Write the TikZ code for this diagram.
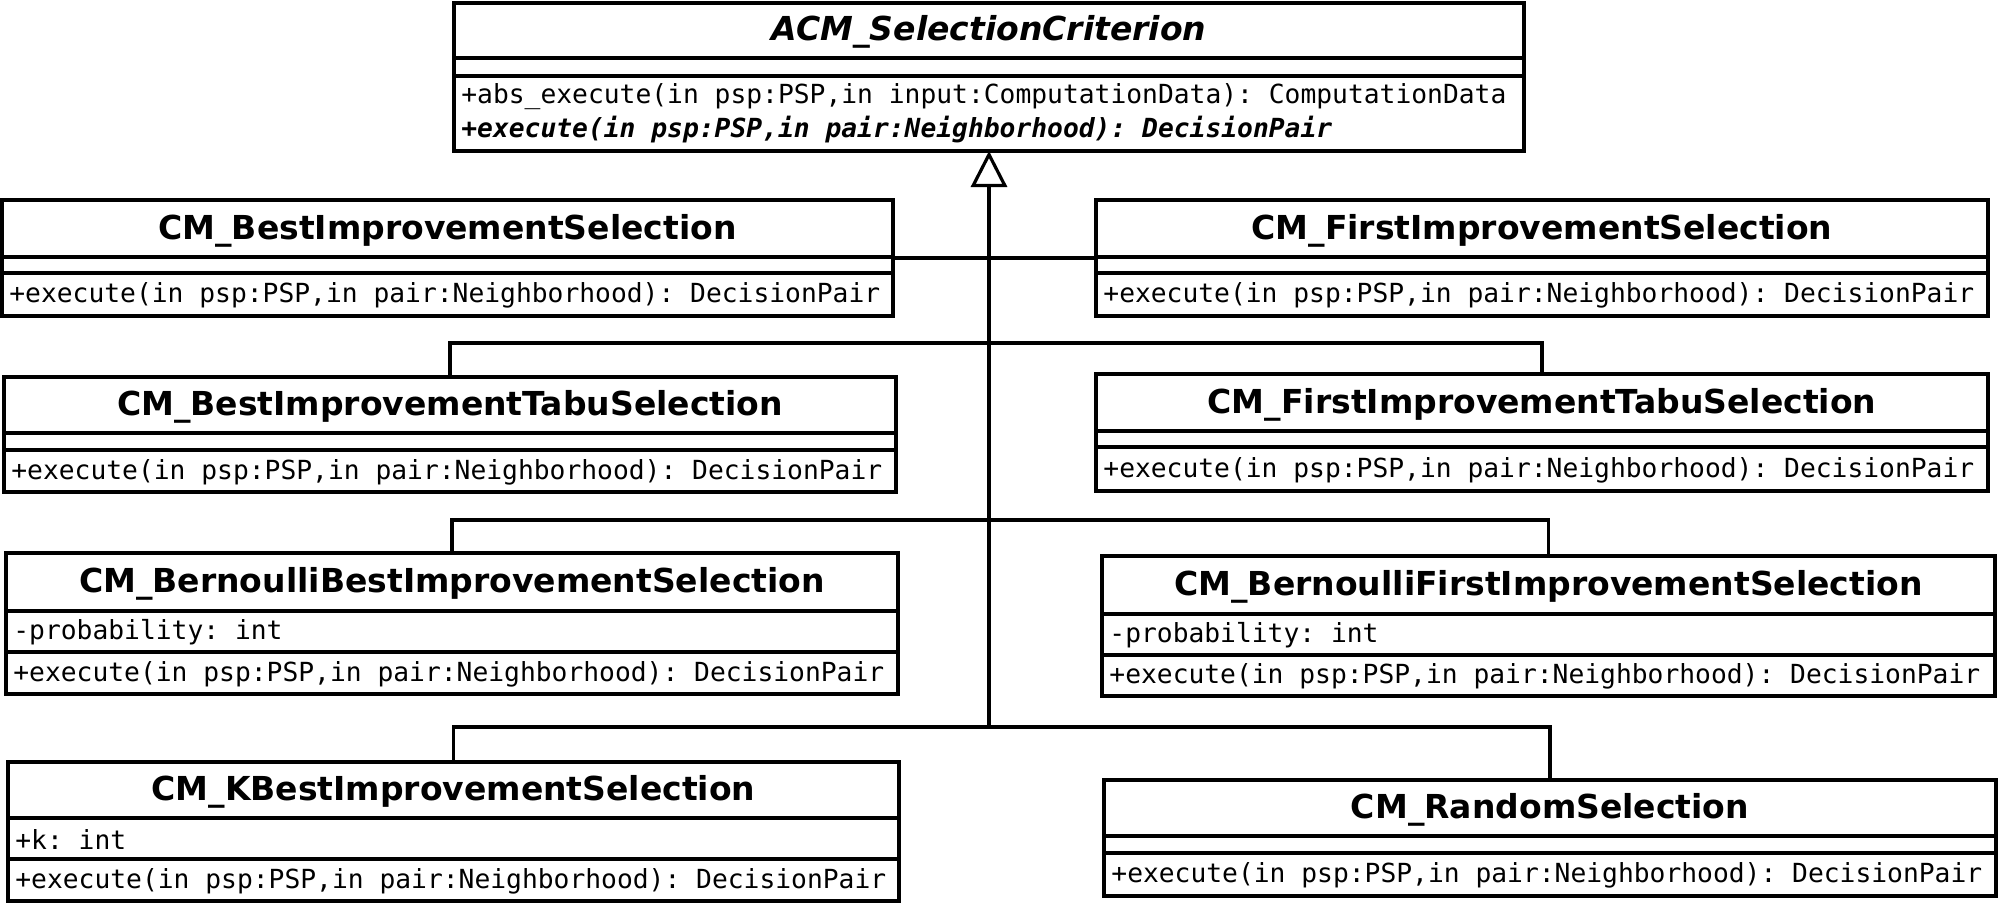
\documentclass[tikz,border=0pt]{standalone}
\usepackage{fontspec}
\setmainfont{DejaVu Sans}
\newfontfamily\monofam{DejaVu Sans Mono}
\usetikzlibrary{arrows.meta}
\frenchspacing
\newcommand\umlcls[7]{%
  \node[box, minimum width={(#4-#2)*0.5pt}, minimum height={(#5-#3)*0.5pt}] (#1) at ({(#2+#4)/2},{(#3+#5)/2}) {};
  \draw[sep] (#2,#6) -- (#4,#6);
  \draw[sep] (#2,#7) -- (#4,#7);}
\begin{document}
\begin{tikzpicture}[x=0.5pt,y=-0.5pt,
  box/.style={draw, line width=1.75pt, inner sep=0pt, outer sep=0pt, rectangle},
  sep/.style={line width=1.75pt},
  ttl/.style={font=\fontsize{16.5}{20}\selectfont\bfseries, inner sep=0pt, yshift=-1pt},
  txt/.style={font=\monofam\fontsize{13.15}{16}\selectfont\frenchspacing, inner sep=0pt, anchor=west, yshift=-0.5pt},
  link/.style={line width=1.6pt}]
\useasboundingbox (0,0) rectangle (2000,904);

% top abstract class
\umlcls{top}{454}{3}{1524}{151}{58}{76}
\node[ttl, font=\fontsize{16.5}{20}\selectfont\bfseries\itshape] (top-t) at (989,30) {ACM\_SelectionCriterion};
\node[txt] (top-m1) at (461,96) {+abs\_execute(in psp:PSP,in input:ComputationData): ComputationData};
\node[txt, font=\monofam\fontsize{13.15}{16}\selectfont\bfseries\itshape\frenchspacing] (top-m2) at (461,129) {+execute(in psp:PSP,in pair:Neighborhood): DecisionPair};

% row 1
\umlcls{b1}{2}{200}{893}{316}{257}{273}
\node[ttl] (b1-t) at (447.5,228.5) {CM\_BestImprovementSelection};
\node[txt] (b1-m) at (9,294.5) {+execute(in psp:PSP,in pair:Neighborhood): DecisionPair};
\umlcls{b2}{1096}{200}{1988}{316}{257}{273}
\node[ttl] (b2-t) at (1542,228.5) {CM\_FirstImprovementSelection};
\node[txt] (b2-m) at (1103,294.5) {+execute(in psp:PSP,in pair:Neighborhood): DecisionPair};

% row 2
\umlcls{b3}{4}{377}{896}{492}{433}{450}
\node[ttl] (b3-t) at (450,405) {CM\_BestImprovementTabuSelection};
\node[txt] (b3-m) at (11,471) {+execute(in psp:PSP,in pair:Neighborhood): DecisionPair};
\umlcls{b4}{1096}{374}{1988}{491}{431}{447}
\node[ttl] (b4-t) at (1542,402.5) {CM\_FirstImprovementTabuSelection};
\node[txt] (b4-m) at (1103,469) {+execute(in psp:PSP,in pair:Neighborhood): DecisionPair};

% row 3
\umlcls{b5}{6}{553}{898}{694}{611}{652}
\node[ttl] (b5-t) at (452,582) {CM\_BernoulliBestImprovementSelection};
\node[txt] (b5-a) at (13,631.5) {-probability: int};
\node[txt] (b5-m) at (13,673) {+execute(in psp:PSP,in pair:Neighborhood): DecisionPair};
\umlcls{b6}{1102}{556}{1995}{696}{614}{655}
\node[ttl] (b6-t) at (1548.5,585) {CM\_BernoulliFirstImprovementSelection};
\node[txt] (b6-a) at (1109,634.5) {-probability: int};
\node[txt] (b6-m) at (1109,675.5) {+execute(in psp:PSP,in pair:Neighborhood): DecisionPair};

% row 4
\umlcls{b7}{8}{762}{899}{901}{818}{859}
\node[ttl] (b7-t) at (453.5,790) {CM\_KBestImprovementSelection};
\node[txt] (b7-a) at (15,838.5) {+k: int};
\node[txt] (b7-m) at (15,880) {+execute(in psp:PSP,in pair:Neighborhood): DecisionPair};
\umlcls{b8}{1104}{780}{1996}{896}{836}{853}
\node[ttl] (b8-t) at (1550,808) {CM\_RandomSelection};
\node[txt] (b8-m) at (1111,874.5) {+execute(in psp:PSP,in pair:Neighborhood): DecisionPair};

% connectors
\coordinate (j2) at (989,343);
\coordinate (j3) at (989,520);
\coordinate (j4) at (989,727);
\draw[link] (b1.east) -- (b2.west);
\draw[link] (b3.north) |- (j2) -| (b4.north);
\draw[link] (b5.north) |- (j3) -| (b6.north);
\draw[link] (b7.north) |- (j4) -| (b8.north);
\draw[link, -{Triangle[open, length=18pt, width=18pt, line width=1.6pt]}] (j4) -- (top.south);
\end{tikzpicture}
\end{document}
